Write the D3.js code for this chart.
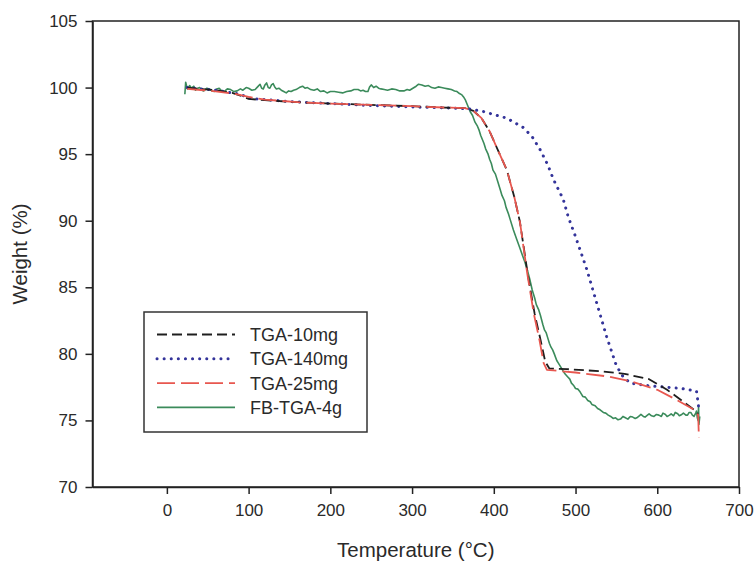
<!DOCTYPE html>
<html><head><meta charset="utf-8">
<script src="https://cdn.jsdelivr.net/npm/d3@7"></script>
<style>body{margin:0;background:#fff}svg{display:block}text{font-family:"Liberation Sans",Arial,sans-serif;fill:#2a2a2a}</style>
</head><body><svg id="c" width="756" height="561"></svg>
<script>
// ---- data (Temperature °C, Weight %) ----
const seriesNames = ["TGA-10mg","TGA-140mg","TGA-25mg","FB-TGA-4g"];
const xTicks = [0,100,200,300,400,500,600,700];
const yTicks = [70,75,80,85,90,95,100,105];

const tga10 = [[25,100.0],[40,99.9],[60,99.8],[80,99.6],[90,99.4],[100,99.15],[120,99.05],[160,98.9],[200,98.8],[250,98.7],[300,98.6],[340,98.5],[365,98.45],[375,98.25],[385,97.7],[395,96.7],[405,95.3],[416,93.8],[425,91.8],[432,89.9],[442,85.8],[450,83.0],[457,81.1],[463,79.4],[468,78.9],[490,78.85],[530,78.7],[560,78.5],[590,78.1],[612,77.3],[632,76.4],[645,75.8],[650,75.5]];
const tga140 = [[25,100.0],[60,99.8],[90,99.5],[100,99.2],[150,98.95],[200,98.8],[250,98.65],[300,98.55],[350,98.45],[370,98.4],[387,98.2],[416,97.7],[436,97.0],[447,96.3],[457,95.3],[466,94.2],[473,93.1],[485,91.6],[491,90.3],[500,88.8],[514,86.3],[526,83.8],[538,81.3],[550,79.1],[558,78.3],[567,77.8],[590,77.6],[610,77.5],[630,77.4],[648,77.2],[650,76.3],[651,75.8]];
const tga25 = [[25,99.9],[45,99.8],[62,99.7],[85,99.5],[100,99.3],[120,99.1],[160,98.9],[200,98.8],[250,98.7],[300,98.6],[340,98.5],[365,98.45],[375,98.25],[385,97.7],[395,96.7],[405,95.3],[416,93.8],[425,91.8],[432,89.9],[441,86.0],[449,83.0],[456,81.0],[461,79.3],[465,78.8],[500,78.6],[540,78.3],[570,77.9],[600,77.3],[625,76.5],[645,75.8],[650,75.4],[651,73.7]];
const fb4g = [[22,99.5],[23,100.4],[25,99.9],[28,100.15],[30,99.95],[33,100.1],[35,99.8],[38,99.95],[40,100.0],[43,99.8],[45,99.75],[49,99.95],[52,99.9],[55,99.75],[58,99.7],[61,99.9],[64,99.95],[67,99.75],[70,99.7],[74,99.9],[78,99.85],[82,99.7],[86,99.75],[90,99.9],[93,99.8],[97,100.0],[100,99.95],[104,99.8],[108,99.85],[111,100.05],[114,100.25],[116,99.95],[118,99.9],[120,100.2],[122,100.35],[124,100.0],[126,99.95],[128,100.2],[130,100.3],[132,100.05],[134,99.9],[137,99.95],[140,99.8],[143,99.7],[146,99.6],[149,99.75],[152,99.7],[155,99.8],[158,99.85],[162,100.0],[166,100.1],[169,99.95],[172,100.0],[176,99.85],[180,99.8],[184,99.9],[188,99.7],[192,99.75],[196,99.6],[200,99.7],[205,99.7],[210,99.65],[215,99.6],[220,99.7],[225,99.75],[229,99.85],[234,99.85],[237,99.75],[240,99.8],[243,99.7],[246,99.7],[248,100.05],[250,100.2],[253,100.0],[256,100.1],[259,99.95],[262,99.9],[266,99.85],[270,99.8],[275,99.9],[280,99.85],[285,99.75],[290,99.75],[294,99.85],[297,99.8],[301,99.95],[305,100.1],[308,100.25],[312,100.2],[316,100.1],[320,100.15],[324,100.0],[328,99.95],[332,100.05],[336,100.0],[340,99.95],[344,99.9],[348,99.85],[352,99.75],[355,99.7],[358,99.55],[361,99.45],[363,99.3],[365,99.1],[367,98.8],[369,98.5],[371,98.2],[374,97.9],[377,97.4],[380,97.1],[382,96.8],[384,96.4],[386,96.1],[388,95.8],[390,95.4],[393,95.0],[395,94.6],[397,94.3],[399,93.8],[402,93.5],[405,92.9],[408,92.3],[410,91.9],[413,91.5],[415,91.0],[418,90.5],[420,90.1],[424,89.3],[428,88.6],[431,88.1],[435,87.4],[438,86.9],[441,86.3],[444,85.6],[447,84.8],[450,84.2],[452,83.7],[455,83.3],[457,82.9],[460,82.2],[462,81.8],[464,81.6],[466,81.2],[468,80.8],[470,80.5],[472,80.3],[474,80.0],[477,79.5],[479,79.3],[482,79.0],[484,78.8],[487,78.5],[490,78.3],[493,78.1],[495,77.8],[498,77.6],[500,77.4],[503,77.35],[505,77.2],[507,77.0],[509,76.8],[512,76.75],[515,76.5],[518,76.4],[520,76.2],[524,76.1],[527,75.9],[530,75.8],[534,75.6],[537,75.55],[540,75.4],[543,75.3],[546,75.15],[549,75.2],[552,75.05],[555,75.1],[558,75.3],[561,75.2],[564,75.1],[567,75.3],[570,75.25],[573,75.15],[575,75.2],[578,75.35],[580,75.45],[583,75.3],[585,75.25],[588,75.4],[590,75.5],[593,75.35],[596,75.3],[599,75.45],[602,75.4],[605,75.3],[607,75.55],[610,75.45],[612,75.3],[615,75.4],[617,75.5],[620,75.35],[622,75.6],[625,75.5],[627,75.35],[630,75.45],[632,75.55],[635,75.4],[637,75.4],[639,75.6],[641,75.6],[643,75.4],[645,75.3],[647,75.55],[648,75.7],[649,75.2],[650,75.0],[650.5,76.0],[651,74.7],[652,75.3]];

const svg = d3.select("#c");
const L=92.5, R=739, T=21, B=487;
const x = d3.scaleLinear().domain([-91,700]).range([L,R]);
const y = d3.scaleLinear().domain([70,105]).range([B,T]);

// frame
svg.append("rect").attr("x",L).attr("y",T).attr("width",R-L).attr("height",B-T)
  .attr("fill","none").attr("stroke","#222").attr("stroke-width",1.5);

const xa = svg.append("g").attr("transform",`translate(0,${B})`)
  .call(d3.axisBottom(x).tickValues(xTicks).tickSize(7).tickPadding(10).tickSizeOuter(0));
const ya = svg.append("g").attr("transform",`translate(${L},0)`)
  .call(d3.axisLeft(y).tickValues(yTicks).tickSize(7).tickPadding(8).tickSizeOuter(0));
[xa,ya].forEach(g=>{
  g.select(".domain").attr("stroke","#222").attr("stroke-width",1.5);
  g.selectAll(".tick line").attr("stroke","#222").attr("stroke-width",1.5);
  g.selectAll(".tick text").attr("font-size",17).attr("font-family",'"Liberation Sans",Arial,sans-serif').attr("fill","#333");
});

svg.append("text").attr("x",(L+R)/2).attr("y",557).attr("text-anchor","middle")
  .attr("font-size",20.5).attr("fill","#333").text("Temperature (°C)");
svg.append("text").attr("transform",`translate(27,${(T+B)/2}) rotate(-90)`).attr("text-anchor","middle")
  .attr("font-size",20.5).attr("fill","#333").text("Weight (%)");

const line = d3.line().x(d=>x(d[0])).y(d=>y(d[1]));
const styles = [
  {data:tga10, color:"#1e1e1e", dash:"10,5", w:1.8, cap:"butt"},
  {data:tga140, color:"#34349a", dash:"0.1,7", w:3, cap:"round"},
  {data:tga25, color:"#e8574f", dash:"18,6", w:1.8, cap:"butt"},
  {data:fb4g, color:"#3b8b5b", dash:null, w:1.6, cap:"butt"}
];
[3,1,0,2].forEach(i=>{
  const s=styles[i];
  svg.append("path").datum(s.data).attr("d",line).attr("fill","none")
    .attr("stroke",s.color).attr("stroke-width",s.w).attr("stroke-linecap",s.cap)
    .attr("stroke-linejoin","round").attr("stroke-dasharray",s.dash);
});

// legend
const lg = svg.append("g");
lg.append("rect").attr("x",144).attr("y",312).attr("width",223).attr("height",120)
  .attr("fill","#fff").attr("stroke","#333").attr("stroke-width",1.5);
seriesNames.forEach((n,i)=>{
  const s=styles[i], yy=334.5+i*24.3;
  lg.append("line").attr("x1",157).attr("x2",235).attr("y1",yy).attr("y2",yy)
    .attr("stroke",s.color).attr("stroke-width",s.w).attr("stroke-linecap",s.cap).attr("stroke-dasharray",s.dash);
  lg.append("text").attr("x",250).attr("y",yy).attr("dy","0.36em").attr("font-size",18).attr("fill","#333").text(n);
});
</script></body></html>
